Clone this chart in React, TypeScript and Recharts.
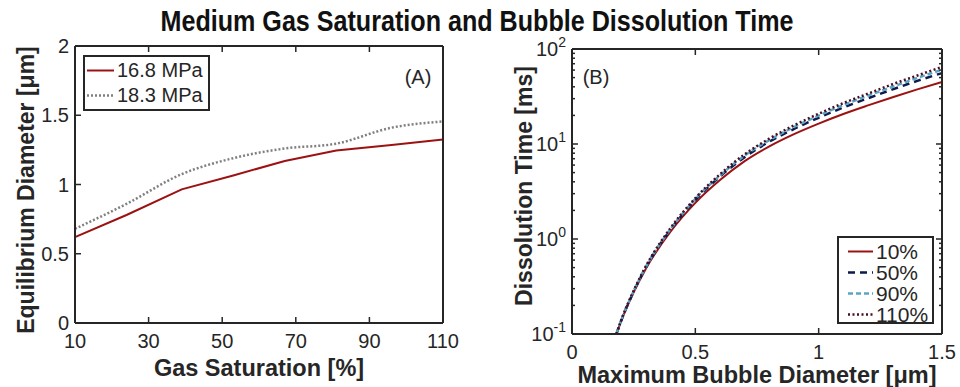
import { LineChart, Line, XAxis, YAxis, Legend } from "recharts";

// (A) equilibrium diameter vs gas saturation
const satPct = [10, 24, 39, 53, 67, 81, 96, 110];
const diam168 = [0.62, 0.78, 0.965, 1.065, 1.17, 1.245, 1.285, 1.325];
const diam183 = [0.68, 0.86, 1.075, 1.19, 1.26, 1.295, 1.41, 1.455];
const satTicks = [10, 30, 50, 70, 90, 110];
const diamTicks = [0, 0.5, 1, 1.5, 2];

// (B) dissolution time vs max bubble diameter
const maxDiam = [0.18, 0.2, 0.25, 0.3, 0.4, 0.5, 0.6, 0.7, 0.8, 0.9, 1.0, 1.1, 1.2, 1.3, 1.4, 1.5];
const t10 = [0.1, 0.138, 0.275, 0.49, 1.2, 2.4, 4.17, 6.6, 9.44, 12.7, 16.4, 20.7, 25.5, 31.1, 37.6, 45];
const t50 = [0.1, 0.139, 0.28, 0.505, 1.26, 2.57, 4.55, 7.26, 10.6, 14.4, 18.9, 24.2, 30.3, 37.6, 46.2, 55.8];
const t90 = [0.1, 0.14, 0.283, 0.512, 1.28, 2.64, 4.67, 7.56, 11.0, 15.1, 19.9, 25.7, 32.3, 40.1, 49.6, 60.5];
const t110 = [0.1, 0.141, 0.286, 0.52, 1.31, 2.69, 4.8, 7.79, 11.4, 15.7, 20.8, 26.9, 33.9, 42.6, 52.6, 64.8];
const bubbleTicks = [0, 0.5, 1, 1.5];
const decadeTicks = [0.1, 1, 10, 100];
const decadeExp = ["-1", "0", "1", "2"];
const minorTicks = [
  0.2, 0.3, 0.4, 0.5, 0.6, 0.7, 0.8, 0.9,
  2, 3, 4, 5, 6, 7, 8, 9,
  20, 30, 40, 50, 60, 70, 80, 90,
];

const FONT = '"Liberation Sans", Arial, Helvetica, sans-serif';
const INK = "#262626";
const RED = "#9c1212";
const GRAY = "#808080";
const NAVY = "#0d1a4d";
const SKY = "#5aa5c4";
const MAROON = "#4a0e22";

const leftData = satPct.map((s, i) => ({ s, a: diam168[i], b: diam183[i] }));
const rightData = maxDiam.map((d, i) => ({ d, p10: t10[i], p50: t50[i], p90: t90[i], p110: t110[i] }));

const TICK = 6;
const axisStroke = { stroke: INK, strokeWidth: 2 };

const BottomTick = ({ x, y, payload }: any) => (
  <g>
    <line x1={x} y1={y} x2={x} y2={y - TICK} stroke={INK} strokeWidth={1.5} />
    <text x={x} y={y + 25} textAnchor="middle" fontSize={20} fontFamily={FONT} fill={INK}>
      {payload.value}
    </text>
  </g>
);

const TopTick = ({ x, y }: any) => (
  <line x1={x} y1={y} x2={x} y2={y + TICK} stroke={INK} strokeWidth={1.5} />
);

const LeftTick = ({ x, y, payload }: any) => (
  <g>
    <line x1={x} y1={y} x2={x + TICK} y2={y} stroke={INK} strokeWidth={1.5} />
    <text x={x - 6} y={y + 7} textAnchor="end" fontSize={20} fontFamily={FONT} fill={INK}>
      {payload.value}
    </text>
  </g>
);

const RightTick = ({ x, y }: any) => (
  <line x1={x} y1={y} x2={x - TICK} y2={y} stroke={INK} strokeWidth={1.5} />
);

const LogLeftTick = ({ x, y, payload }: any) => {
  const k = decadeTicks.indexOf(payload.value);
  const len = k >= 0 ? TICK : 3;
  return (
    <g>
      <line x1={x} y1={y} x2={x + len} y2={y} stroke={INK} strokeWidth={1.5} />
      {k >= 0 && (
        <text x={x - 6} y={y + 7} textAnchor="end" fontSize={20} fontFamily={FONT} fill={INK}>
          10<tspan dy={-9} fontSize={14}>{decadeExp[k]}</tspan>
        </text>
      )}
    </g>
  );
};

const LogRightTick = ({ x, y, payload }: any) => {
  const len = decadeTicks.includes(payload.value) ? TICK : 3;
  return <line x1={x} y1={y} x2={x - len} y2={y} stroke={INK} strokeWidth={1.5} />;
};

type Item = { label: string; color: string; dash?: string; width: number };

const legendA: Item[] = [
  { label: "16.8 MPa", color: RED, width: 2 },
  { label: "18.3 MPa", color: GRAY, dash: "2 2", width: 2.5 },
];
const legendB: Item[] = [
  { label: "10%", color: RED, width: 2 },
  { label: "50%", color: NAVY, dash: "7 5", width: 2.5 },
  { label: "90%", color: SKY, dash: "5 3", width: 2.5 },
  { label: "110%", color: MAROON, dash: "2 2.5", width: 2.5 },
];

const LegendBox = ({ items, w, h, row, pad, sampleLeft, sampleW, fontSize }: any) => (
  <div
    style={{
      boxSizing: "border-box",
      width: w,
      height: h,
      border: `2px solid ${INK}`,
      background: "#fff",
      paddingTop: pad,
      fontFamily: FONT,
      fontSize,
      color: INK,
    }}
  >
    {items.map((it: Item) => (
      <div key={it.label} style={{ display: "flex", alignItems: "center", height: row, whiteSpace: "nowrap" }}>
        <svg width={sampleLeft + sampleW + 3} height={row}>
          <line
            x1={sampleLeft}
            x2={sampleLeft + sampleW}
            y1={row / 2}
            y2={row / 2}
            stroke={it.color}
            strokeWidth={it.width}
            strokeDasharray={it.dash}
          />
        </svg>
        <span style={{ lineHeight: `${row}px` }}>{it.label}</span>
      </div>
    ))}
  </div>
);

export default function App() {
  return (
    <div style={{ position: "absolute", left: 0, top: 0, width: 960, height: 387, background: "#fff" }}>
      <div style={{ position: "absolute", left: 0, top: 0 }}>
        <LineChart width={460} height={387} data={leftData} margin={{ top: 45, right: 16, bottom: 63, left: 0 }}>
          <XAxis
            xAxisId="b"
            dataKey="s"
            type="number"
            domain={[10, 110]}
            ticks={satTicks}
            interval={0}
            height={1}
            tickSize={0}
            tickMargin={0}
            tickLine={false}
            tick={BottomTick}
            axisLine={axisStroke}
          />
          <XAxis
            xAxisId="t"
            orientation="top"
            dataKey="s"
            type="number"
            domain={[10, 110]}
            ticks={satTicks}
            interval={0}
            height={1}
            tickSize={0}
            tickMargin={0}
            tickLine={false}
            tick={TopTick}
            axisLine={axisStroke}
          />
          <YAxis
            yAxisId="l"
            type="number"
            domain={[0, 2]}
            ticks={diamTicks}
            interval={0}
            width={75}
            tickSize={0}
            tickMargin={0}
            tickLine={false}
            tick={LeftTick}
            axisLine={axisStroke}
          />
          <YAxis
            yAxisId="r"
            orientation="right"
            type="number"
            domain={[0, 2]}
            ticks={diamTicks}
            interval={0}
            width={1}
            tickSize={0}
            tickMargin={0}
            tickLine={false}
            tick={RightTick}
            axisLine={axisStroke}
          />
          <Line xAxisId="b" yAxisId="l" dataKey="b" type="monotone" stroke={GRAY} strokeWidth={2.5} strokeDasharray="2 2" dot={false} isAnimationActive={false} />
          <Line xAxisId="b" yAxisId="l" dataKey="a" type="linear" stroke={RED} strokeWidth={2} dot={false} isAnimationActive={false} />
          <Legend
            layout="vertical"
            align="center"
            verticalAlign="middle"
            wrapperStyle={{ left: 83, top: 55, width: 127 }}
            content={() => (
              <LegendBox items={legendA} w={127} h={56} row={25} pad={1} sampleLeft={2} sampleW={27} fontSize={20} />
            )}
          />
        </LineChart>
      </div>

      <div style={{ position: "absolute", left: 480, top: 0 }}>
        <LineChart width={480} height={387} data={rightData} margin={{ top: 48, right: 17, bottom: 52, left: 0 }}>
          <XAxis
            xAxisId="b"
            dataKey="d"
            type="number"
            domain={[0, 1.5]}
            ticks={bubbleTicks}
            interval={0}
            height={1}
            tickSize={0}
            tickMargin={0}
            tickLine={false}
            tick={BottomTick}
            axisLine={axisStroke}
          />
          <XAxis
            xAxisId="t"
            orientation="top"
            dataKey="d"
            type="number"
            domain={[0, 1.5]}
            ticks={bubbleTicks}
            interval={0}
            height={1}
            tickSize={0}
            tickMargin={0}
            tickLine={false}
            tick={TopTick}
            axisLine={axisStroke}
          />
          <YAxis
            yAxisId="l"
            type="number"
            scale="log"
            domain={[0.1, 100]}
            allowDataOverflow
            ticks={[...decadeTicks, ...minorTicks]}
            interval={0}
            width={92}
            tickSize={0}
            tickMargin={0}
            tickLine={false}
            tick={LogLeftTick}
            axisLine={axisStroke}
          />
          <YAxis
            yAxisId="r"
            orientation="right"
            type="number"
            scale="log"
            domain={[0.1, 100]}
            allowDataOverflow
            ticks={[...decadeTicks, ...minorTicks]}
            interval={0}
            width={1}
            tickSize={0}
            tickMargin={0}
            tickLine={false}
            tick={LogRightTick}
            axisLine={axisStroke}
          />
          <Line xAxisId="b" yAxisId="l" dataKey="p10" type="monotone" stroke={RED} strokeWidth={2} dot={false} isAnimationActive={false} />
          <Line xAxisId="b" yAxisId="l" dataKey="p50" type="monotone" stroke={NAVY} strokeWidth={2.5} strokeDasharray="7 5" dot={false} isAnimationActive={false} />
          <Line xAxisId="b" yAxisId="l" dataKey="p90" type="monotone" stroke={SKY} strokeWidth={2.5} strokeDasharray="5 3" dot={false} isAnimationActive={false} />
          <Line xAxisId="b" yAxisId="l" dataKey="p110" type="monotone" stroke={MAROON} strokeWidth={2.5} strokeDasharray="2 2.5" dot={false} isAnimationActive={false} />
          <Legend
            layout="vertical"
            align="center"
            verticalAlign="middle"
            wrapperStyle={{ left: 357, top: 236, width: 97 }}
            content={() => (
              <LegendBox items={legendB} w={97} h={88} row={21} pad={3} sampleLeft={9} sampleW={25} fontSize={21} />
            )}
          />
        </LineChart>
      </div>

      <svg width={960} height={387} style={{ position: "absolute", left: 0, top: 0, pointerEvents: "none" }}>
        <g fontFamily={FONT} fill="#111">
          <text x={477} y={31} textAnchor="middle" fontSize={30} fontWeight="bold" textLength={633} lengthAdjust="spacingAndGlyphs">
            Medium Gas Saturation and Bubble Dissolution Time
          </text>
        </g>
        <g fontFamily={FONT} fill={INK} fontWeight="bold">
          <text x={259} y={376} textAnchor="middle" fontSize={23.5}>Gas Saturation [%]</text>
          <text x={757} y={383} textAnchor="middle" fontSize={23.5}>Maximum Bubble Diameter [μm]</text>
          <text transform="translate(34,190) rotate(-90)" textAnchor="middle" fontSize={23}>Equilibrium Diameter [μm]</text>
          <text transform="translate(532,186) rotate(-90)" textAnchor="middle" fontSize={23}>Dissolution Time [ms]</text>
        </g>
        <g fontFamily={FONT} fill={INK} fontSize={20}>
          <text x={418} y={84} textAnchor="middle">(A)</text>
          <text x={596} y={84} textAnchor="middle">(B)</text>
        </g>
      </svg>
    </div>
  );
}
